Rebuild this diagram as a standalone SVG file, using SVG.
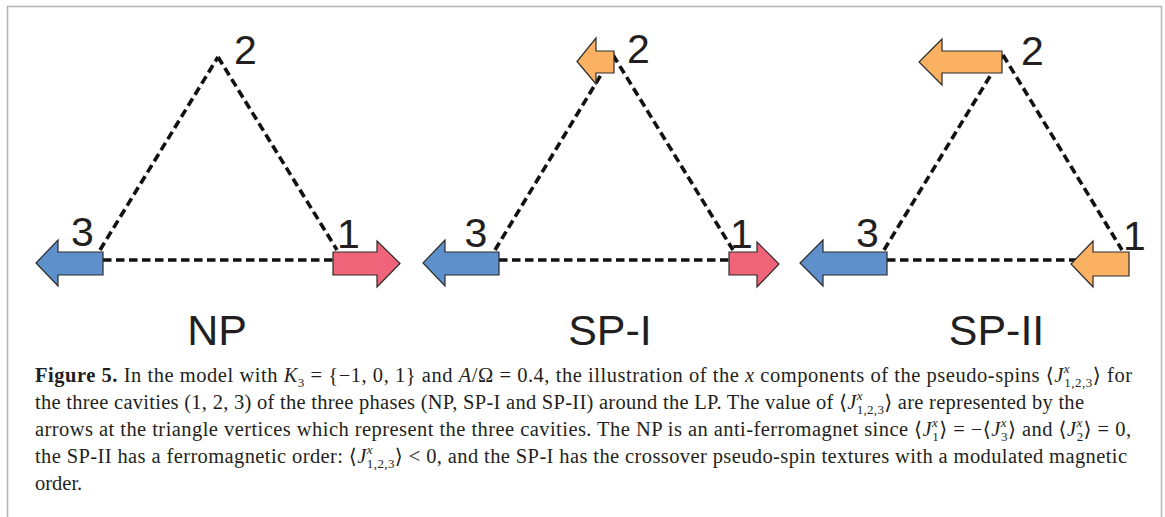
<svg xmlns="http://www.w3.org/2000/svg" width="1165" height="517" viewBox="0 0 1165 517">
<style>
.bg{fill:#ffffff}
.frame{fill:none;stroke:#b5b5b5;stroke-width:1.5}
.edge{fill:none;stroke:#111111;stroke-width:3.6;stroke-dasharray:8.5 4.5}
.arr{stroke:#2b2b2b;stroke-width:1.2;stroke-linejoin:miter}
.blue{fill:#5e91cc}
.red{fill:#ef6479}
.orange{fill:#fab162}
.num{font-family:"Liberation Sans",Arial,sans-serif;font-size:41px;fill:#231f20}
.phase{font-family:"Liberation Sans",Arial,sans-serif;font-size:43px;fill:#231f20;text-anchor:middle}
.cap{font-family:"Liberation Serif","DejaVu Serif",serif;font-size:20.5px;fill:#231f20}
.b{font-weight:bold}
.i{font-style:italic}
.s{font-size:13px}
</style>
<rect class="bg" x="0" y="0" width="1165" height="517"/>
<path class="frame" d="M7.5,517 V6.5 H1161.5 V517"/>

<g id="connectors">
  <line class="edge" x1="100" y1="250" x2="218" y2="57"/>
  <line class="edge" x1="218" y1="57" x2="337" y2="250"/>
  <line class="edge" x1="103" y1="260" x2="334" y2="260"/>
  <line class="edge" x1="495" y1="250" x2="613" y2="55"/>
  <line class="edge" x1="613" y1="55" x2="733" y2="250"/>
  <line class="edge" x1="499" y1="260" x2="730" y2="260"/>
  <line class="edge" x1="884" y1="250" x2="1003" y2="55"/>
  <line class="edge" x1="1003" y1="55" x2="1122" y2="250"/>
  <line class="edge" x1="887" y1="260" x2="1080" y2="260"/>
</g>

<g id="np-site3">
  <path class="arr blue" d="M103,252 H58 V240 L36,263 L58,286 V275 H103 Z"/>
  <text class="num" x="71" y="246">3</text>
</g>
<g id="np-site2">
  <text class="num" x="234" y="64">2</text>
</g>
<g id="np-site1">
  <path class="arr red" d="M333,252 H377 V241 L400,263.5 L377,287 V275 H333 Z"/>
  <text class="num" x="337" y="248">1</text>
</g>
<g id="np-label"><text class="phase" x="217" y="345">NP</text></g>

<g id="sp1-site3">
  <path class="arr blue" d="M499,252 H445 V240 L423,263 L445,286 V275 H499 Z"/>
  <text class="num" x="464.5" y="247">3</text>
</g>
<g id="sp1-site2">
  <path class="arr orange" d="M614,51 H596 V38 L577,61.5 L596,84 V73 H614 Z"/>
  <text class="num" x="627" y="63">2</text>
</g>
<g id="sp1-site1">
  <path class="arr red" d="M729,252 H757 V242 L779,264 L757,287 V275 H729 Z"/>
  <text class="num" x="730" y="248">1</text>
</g>
<g id="sp1-label"><text class="phase" x="610" y="345">SP-I</text></g>

<g id="sp2-site3">
  <path class="arr blue" d="M887,252 H823 V240 L800,263 L823,286 V275 H887 Z"/>
  <text class="num" x="856" y="247">3</text>
</g>
<g id="sp2-site2">
  <path class="arr orange" d="M1002,51 H942 V39 L919,62 L942,85 V73 H1002 Z"/>
  <text class="num" x="1021" y="65">2</text>
</g>
<g id="sp2-site1">
  <path class="arr orange" d="M1129,252 H1093 V241 L1071,264 L1093,287 V276 H1129 Z"/>
  <text class="num" x="1123" y="250">1</text>
</g>
<g id="sp2-label"><text class="phase" x="996.5" y="345">SP-II</text></g>

<g id="caption">
  <text class="cap" x="35" y="382" textLength="1097" lengthAdjust="spacing"><tspan class="b">Figure 5.</tspan> In the model with <tspan class="i">K</tspan><tspan class="s" dy="5">3</tspan><tspan dy="-5"> = {−1, 0, 1} and </tspan><tspan class="i">A</tspan>/Ω = 0.4, the illustration of the <tspan class="i">x</tspan> components of the pseudo-spins ⟨<tspan class="i">J</tspan><tspan class="s i" dy="-9">x</tspan><tspan class="s" dx="-6" dy="14">1,2,3</tspan><tspan dy="-5">⟩ for</tspan></text>
  <text class="cap" x="35" y="409" textLength="1049" lengthAdjust="spacing">the three cavities (1, 2, 3) of the three phases (NP, SP-I and SP-II) around the LP. The value of ⟨<tspan class="i">J</tspan><tspan class="s i" dy="-9">x</tspan><tspan class="s" dx="-6" dy="14">1,2,3</tspan><tspan dy="-5">⟩ are represented by the</tspan></text>
  <text class="cap" x="35" y="436" textLength="1096" lengthAdjust="spacing">arrows at the triangle vertices which represent the three cavities. The NP is an anti-ferromagnet since ⟨<tspan class="i">J</tspan><tspan class="s i" dy="-9">x</tspan><tspan class="s" dx="-6" dy="14">1</tspan><tspan dy="-5">⟩ = −⟨</tspan><tspan class="i">J</tspan><tspan class="s i" dy="-9">x</tspan><tspan class="s" dx="-6" dy="14">3</tspan><tspan dy="-5">⟩ and ⟨</tspan><tspan class="i">J</tspan><tspan class="s i" dy="-9">x</tspan><tspan class="s" dx="-6" dy="14">2</tspan><tspan dy="-5">⟩ = 0,</tspan></text>
  <text class="cap" x="35" y="463" textLength="1092" lengthAdjust="spacing">the SP-II has a ferromagnetic order: ⟨<tspan class="i">J</tspan><tspan class="s i" dy="-9">x</tspan><tspan class="s" dx="-6" dy="14">1,2,3</tspan><tspan dy="-5">⟩ &lt; 0, and the SP-I has the crossover pseudo-spin textures with a modulated magnetic</tspan></text>
  <text class="cap" x="35" y="490">order.</text>
</g>
</svg>
